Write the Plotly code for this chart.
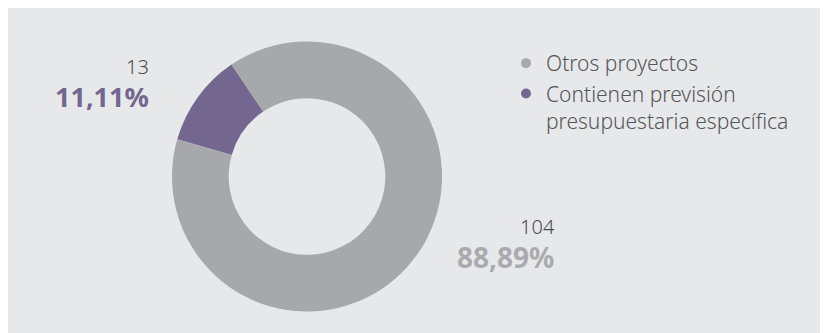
import plotly.graph_objects as go

categories = ["Contienen previsión presupuestaria específica", "Otros proyectos"]
legend_labels = ["Otros proyectos", "Contienen previsión<br>presupuestaria específica"]
counts = [13, 104]
percent_labels = ["11,11%", "88,89%"]
colors = ["#73668f", "#a7a8ab"]

# the page adds an 8px body margin, so the figure is sized to fit the window
W, H = 820, 325
OFF = 8
FONT = "Noto Sans"


def px(x):
    return (x - OFF) / W


def py(y):
    return 1 - (y - OFF) / H


fig = go.Figure()
fig.add_trace(go.Pie(
    labels=categories, values=counts, marker=dict(colors=colors, line=dict(width=0)),
    hole=0.58, sort=False, direction="clockwise", rotation=286,
    textinfo="none", showlegend=False,
    domain=dict(x=[px(172), px(442)], y=[py(311.5), py(41.5)]),
))
# legend entries with circular markers
fig.add_trace(go.Scatter(x=[None], y=[None], mode="markers", name=legend_labels[0],
                         marker=dict(color=colors[1], size=10, symbol="circle")))
fig.add_trace(go.Scatter(x=[None], y=[None], mode="markers", name=legend_labels[1],
                         marker=dict(color=colors[0], size=10, symbol="circle")))


def value_label(count, pct, pct_size):
    return ("<span style='font-size:20px;font-weight:300;fill:#4d4d4f'>" + str(count) + "</span><br>"
            "<b><span style='font-size:" + str(pct_size) + "px'>" + pct + "</span></b>")


annotations = [
    dict(x=px(150), y=py(52), text=value_label(counts[0], percent_labels[0], 27),
         xanchor="right", yanchor="top", align="right",
         font=dict(family=FONT, size=25, color=colors[0])),
    dict(x=px(556), y=py(212), text=value_label(counts[1], percent_labels[1], 28),
         xanchor="right", yanchor="top", align="right",
         font=dict(family=FONT, size=26, color="#aaabad")),
]
for a in annotations:
    a.update(xref="paper", yref="paper", showarrow=False, borderpad=0)

fig.update_layout(
    width=W, height=H, margin=dict(l=0, r=0, t=0, b=0),
    paper_bgcolor="#e7e8ea", plot_bgcolor="rgba(0,0,0,0)",
    xaxis=dict(visible=False), yaxis=dict(visible=False),
    annotations=annotations,
    legend=dict(x=px(506), y=py(43), xanchor="left", yanchor="top",
                bgcolor="rgba(0,0,0,0)", valign="top",
                font=dict(family=FONT, size=21, color="#55565a", weight=300)),
)

fig.write_html("out.html")
